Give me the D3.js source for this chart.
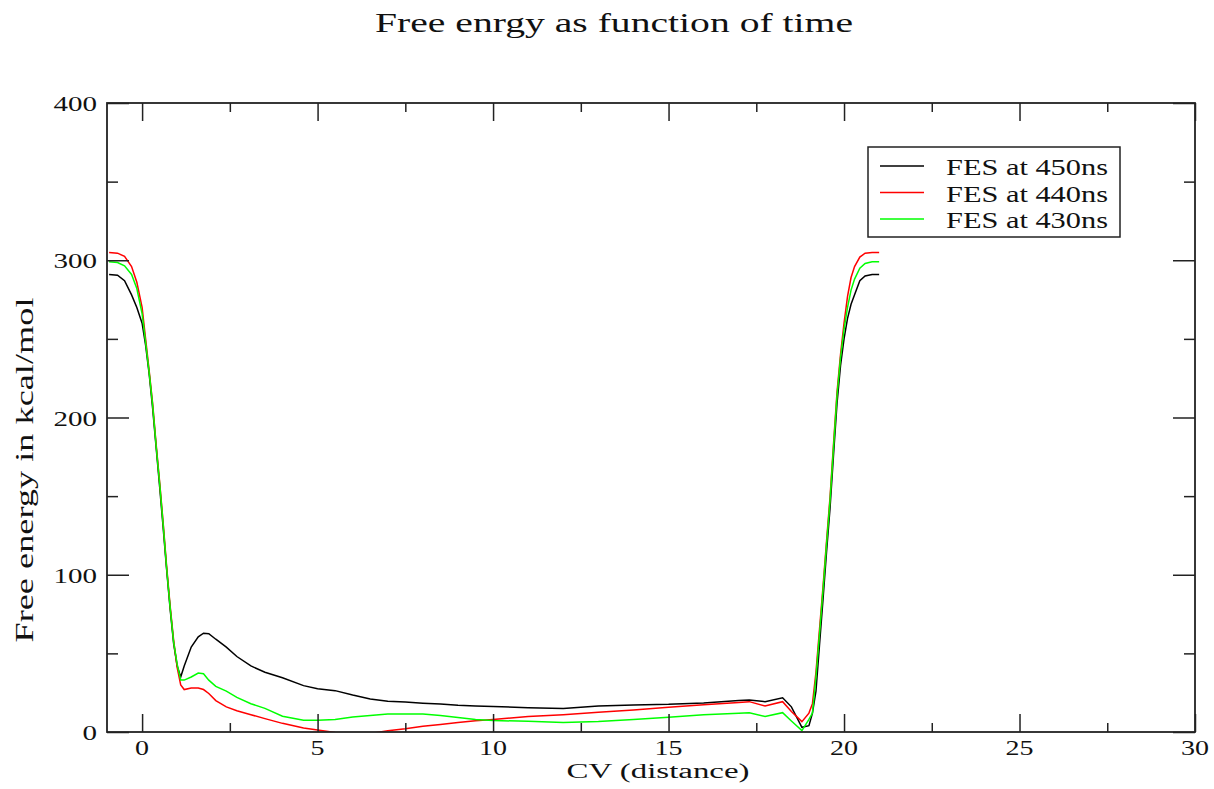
<!DOCTYPE html>
<html>
<head>
<meta charset="utf-8">
<script src="https://cdn.jsdelivr.net/npm/d3@7.9.0/dist/d3.min.js"></script>
<style>
  body { margin: 0; background: #fff; }
  svg text { font-family: "Liberation Serif", "Times New Roman", Times, serif; fill: #111; }
</style>
</head>
<body>
<svg id="chart" width="1214" height="789"></svg>
<script>
// CV grid shared by the three free energy profiles
const cv = [-0.94, -0.7, -0.5, -0.3, -0.15, 0, 0.1, 0.2, 0.3, 0.4, 0.5, 0.6, 0.7, 0.8, 0.9,
  1.0, 1.1, 1.2, 1.4, 1.6, 1.75, 1.9, 2.1, 2.4, 2.7, 3.1, 3.5, 4.0, 4.6, 5.0, 5.5, 6.0, 6.5,
  7.0, 7.5, 8.0, 8.5, 9.0, 9.5, 10, 11, 12, 13, 14, 15, 16, 17, 17.3, 17.75, 18.25, 18.5,
  18.8, 19.0, 19.1, 19.2, 19.3, 19.4, 19.5, 19.6, 19.7, 19.8, 19.9, 20.0, 20.1, 20.2,
  20.3, 20.45, 20.6, 20.8, 21.0];

const fes450 = [291, 290.5, 287, 278, 270, 260, 246, 228, 206, 181, 156, 130, 103, 78, 56,
  42, 35, 42, 54, 60.5, 62.8, 62.5, 59, 54, 48, 42, 38, 34.5, 29.5, 27.5, 26.3, 23.5, 21,
  19.5, 19, 18.3, 17.8, 17, 16.5, 16.2, 15.5, 15, 16.5, 17.2, 17.6, 18.5, 20, 20.3, 19.3, 21.8, 16,
  3, 4, 12, 26, 55, 84, 114, 142, 176, 209, 233, 250, 263, 272,
  278, 287, 290, 291, 291];

const fes440 = [305, 304.5, 302.5, 296, 286, 270, 250, 230, 209, 183, 159, 133, 105, 80, 58,
  41, 30, 27, 28, 28, 27, 24.5, 20, 16, 13.5, 11, 8.5, 5.5, 2.5, 1.2, -0.3, -1.5, -1.0,
  0.8, 2, 3.6, 4.8, 6, 7.2, 8, 9.8, 11, 12.5, 14, 15.8, 17.4, 18.8, 19.3, 16.5, 19.3, 13,
  6.6, 12, 18, 38, 65, 92, 121, 149, 183, 216, 240, 260, 277, 289,
  296, 302, 304.5, 305, 305];

const fes430 = [299, 298.5, 296.5, 291, 282, 266, 248, 229, 208, 182, 158, 132, 104, 79, 57,
  43, 33, 33, 35, 37.5, 37, 33, 29, 26, 22, 18, 15, 10, 7.5, 7.5, 8, 9.5, 10.5,
  11.4, 11.5, 11.4, 10.5, 9.2, 8, 7.3, 6.8, 6, 6.6, 8, 9.4, 11, 12, 12.3, 9.8, 12.3, 7,
  0.9, 8, 12, 35, 62, 90, 119, 147, 181, 214, 238, 256, 270, 281,
  288, 295, 298, 299, 299];

const seriesNames = ['FES at 450ns', 'FES at 440ns', 'FES at 430ns'];
const seriesColors = ['#000000', '#ff0000', '#00ff00'];
const xMajorTicks = [0, 5, 10, 15, 20, 25, 30];
const xMinorTicks = [2.5, 7.5, 12.5, 17.5, 22.5, 27.5];
const yMajorTicks = [0, 100, 200, 300, 400];
const yMinorTicks = [50, 150, 250, 350];

const svg = d3.select('#chart');
const plotLeft = 107, plotRight = 1195, plotTop = 103, plotBottom = 732;

const x = d3.scaleLinear().domain([-1, 30]).range([plotLeft, plotRight]);
const y = d3.scaleLinear().domain([0, 400]).range([plotBottom, plotTop]);

// the reference face is wider than Times, so widths are fixed explicitly
function fitWidth(sel, w) {
  sel.attr('font-family', '"Liberation Serif", "Times New Roman", serif')
    .attr('textLength', w)
    .attr('lengthAdjust', 'spacingAndGlyphs');
}

// clip curves to the frame
svg.append('defs').append('clipPath').attr('id', 'plot-clip')
  .append('rect').attr('x', plotLeft).attr('y', plotTop)
  .attr('width', plotRight - plotLeft).attr('height', plotBottom - plotTop);

// curves
const series = [fes450, fes440, fes430];
const line = d3.line().x((d) => x(d[0])).y((d) => y(d[1]));
series.forEach((vals, i) => {
  svg.append('path')
    .datum(cv.map((c, j) => [c, vals[j]]))
    .attr('clip-path', 'url(#plot-clip)')
    .attr('fill', 'none')
    .attr('stroke', seriesColors[i])
    .attr('stroke-width', 1.5)
    .attr('d', line);
});

// axes: ticks inward on all four sides
const axisStroke = '#222';
const bottomAxis = d3.axisBottom(x).tickValues(xMajorTicks).tickSize(-18).tickFormat('');
const bottomMinor = d3.axisBottom(x).tickValues(xMinorTicks).tickSize(-9).tickFormat('');
const topAxis = d3.axisTop(x).tickValues(xMajorTicks).tickSize(-18).tickFormat('');
const topMinor = d3.axisTop(x).tickValues(xMinorTicks).tickSize(-9).tickFormat('');
const leftAxis = d3.axisLeft(y).tickValues(yMajorTicks).tickSize(-22).tickFormat('');
const leftMinor = d3.axisLeft(y).tickValues(yMinorTicks).tickSize(-11).tickFormat('');
const rightAxis = d3.axisRight(y).tickValues(yMajorTicks).tickSize(-22).tickFormat('');
const rightMinor = d3.axisRight(y).tickValues(yMinorTicks).tickSize(-11).tickFormat('');

[[bottomAxis, 0, plotBottom], [bottomMinor, 0, plotBottom], [topAxis, 0, plotTop], [topMinor, 0, plotTop],
 [leftAxis, plotLeft, 0], [leftMinor, plotLeft, 0], [rightAxis, plotRight, 0], [rightMinor, plotRight, 0]]
  .forEach(([ax, tx, ty]) => {
    const g = svg.append('g').attr('transform', `translate(${tx},${ty})`).call(ax.tickSizeOuter(0));
    g.select('.domain').remove();
    g.selectAll('line').attr('stroke', axisStroke).attr('stroke-width', 1.5);
  });

svg.append('rect')
  .attr('x', plotLeft).attr('y', plotTop)
  .attr('width', plotRight - plotLeft).attr('height', plotBottom - plotTop)
  .attr('fill', 'none').attr('stroke', axisStroke).attr('stroke-width', 1.8);

// tick labels
svg.append('g').selectAll('text').data(xMajorTicks).join('text')
  .attr('x', (d) => x(d)).attr('y', 755)
  .attr('text-anchor', 'middle').attr('font-size', 21)
  .text((d) => d)
  .each(function (d) { fitWidth(d3.select(this), String(d).length * 14); });

svg.append('g').selectAll('text').data(yMajorTicks).join('text')
  .attr('x', plotLeft - 10).attr('y', (d) => y(d) + 8)
  .attr('text-anchor', 'end').attr('font-size', 21)
  .text((d) => d)
  .each(function (d) { fitWidth(d3.select(this), String(d).length * 14.5); });

// title and axis labels
svg.append('text')
  .attr('x', 614).attr('y', 32).attr('text-anchor', 'middle').attr('font-size', 28)
  .text('Free enrgy as function of time')
  .call(fitWidth, 478);

svg.append('text')
  .attr('x', 658).attr('y', 778).attr('text-anchor', 'middle').attr('font-size', 20)
  .text('CV (distance)')
  .call(fitWidth, 183);

svg.append('text')
  .attr('transform', 'translate(33,470) rotate(-90)')
  .attr('text-anchor', 'middle').attr('font-size', 25)
  .text('Free energy in kcal/mol')
  .call(fitWidth, 345);

// legend
const legend = svg.append('g');
legend.append('rect')
  .attr('x', 868).attr('y', 147).attr('width', 252).attr('height', 90)
  .attr('fill', '#fff').attr('stroke', axisStroke).attr('stroke-width', 1.5);

seriesNames.forEach((name, i) => {
  const ly = 166 + i * 26.5;
  legend.append('line')
    .attr('x1', 880).attr('x2', 924).attr('y1', ly).attr('y2', ly)
    .attr('stroke', seriesColors[i]).attr('stroke-width', 1.5);
  legend.append('text')
    .attr('x', 946).attr('y', ly + 9).attr('font-size', 23)
    .text(name)
    .call(fitWidth, 162);
});
</script>
</body>
</html>
